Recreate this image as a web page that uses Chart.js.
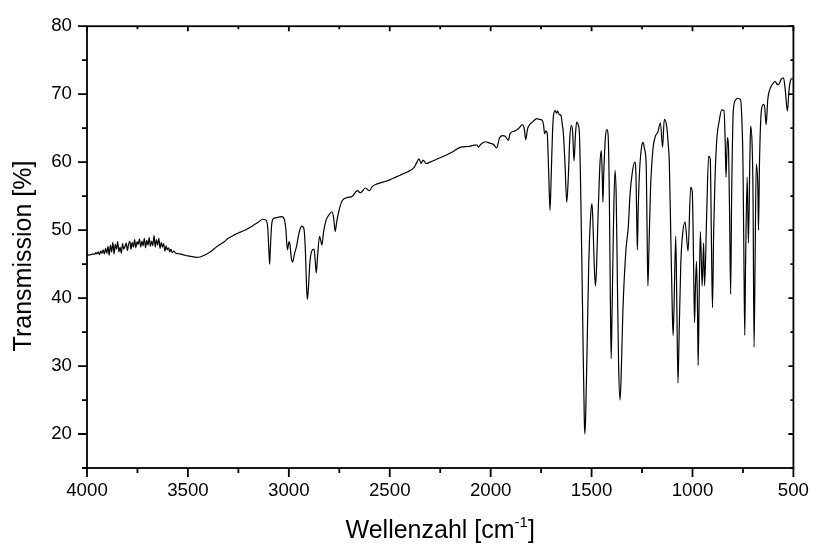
<!DOCTYPE html>
<html>
<head>
<meta charset="utf-8">
<script src="https://cdn.jsdelivr.net/npm/chart.js@4/dist/chart.umd.min.js"></script>
<style>
html, body { margin: 0; padding: 0; background: #fff; }
#wrap { width: 821px; height: 551px; }
</style>
</head>
<body>
<div id="wrap"><canvas id="ir-chart" width="821" height="551"></canvas></div>
<script>
// wavenumbers (cm-1) from left to right
const wavenumbers = [
  4000, 3990, 3980, 3970, 3962, 3956, 3950, 3944, 3938, 3932, 3926, 3920, 3914, 3908, 3902, 3896,
  3890, 3884, 3878, 3872, 3866, 3860, 3854, 3848, 3842, 3836, 3830, 3824, 3818, 3812, 3806, 3800,
  3794, 3788, 3782, 3776, 3770, 3764, 3758, 3752, 3746, 3740, 3734, 3728, 3722, 3716, 3710, 3704,
  3698, 3692, 3686, 3680, 3674, 3668, 3662, 3656, 3650, 3644, 3638, 3632, 3626, 3620, 3614, 3608,
  3602, 3596, 3590, 3584, 3578, 3570, 3560,
  3540, 3520, 3500, 3480, 3460, 3440, 3420, 3400, 3380, 3360, 3340, 3320, 3300, 3270, 3240, 3210,
  3180, 3150, 3130, 3115, 3105, 3098, 3095, 3092, 3085, 3076, 3050, 3035, 3024, 3015, 3007, 2999,
  2995, 2988, 2981, 2972, 2962, 2950, 2937, 2926, 2918, 2912, 2908, 2903, 2895, 2885, 2875, 2868,
  2864, 2858, 2848, 2842, 2836, 2828, 2815, 2800, 2786, 2778, 2770, 2764, 2758, 2745, 2734, 2710,
  2685, 2661, 2645, 2620, 2601, 2587, 2563, 2530, 2500, 2470, 2440, 2410, 2380, 2365, 2355, 2345,
  2335, 2320, 2300, 2270, 2230, 2190, 2148, 2110, 2080, 2067, 2060, 2050, 2026, 2005, 1986, 1970,
  1956, 1940, 1928, 1912, 1904, 1880, 1860, 1843, 1834, 1826, 1818, 1810, 1790, 1771, 1760, 1746,
  1738, 1733, 1726, 1720, 1713, 1706, 1700, 1694, 1689, 1680, 1674, 1668, 1660, 1652, 1645, 1640,
  1632, 1623, 1615, 1608, 1600, 1594, 1587, 1580, 1574, 1566, 1560, 1554, 1548, 1542, 1536, 1533,
  1529, 1522, 1514, 1505, 1498, 1492, 1487, 1481, 1476, 1468, 1458, 1452, 1447, 1444, 1440, 1432,
  1424, 1418, 1412, 1407, 1403, 1399, 1392, 1384, 1378, 1372, 1366, 1359, 1354, 1345, 1330, 1318,
  1310, 1299, 1286, 1280, 1276, 1273, 1269, 1262, 1252, 1245, 1238, 1229, 1225, 1221, 1216, 1208,
  1196, 1184, 1172, 1159, 1148, 1140, 1127, 1120, 1115, 1108, 1100, 1096, 1092, 1083, 1078, 1072,
  1066, 1058, 1050, 1037, 1022, 1009, 1001, 995, 990, 985, 980, 975, 972, 968, 961, 952,
  945, 940, 930, 920, 912, 906, 901, 895, 888, 879, 868, 855, 844, 838, 834, 827,
  822, 816, 811, 806, 798, 785, 778, 762, 755, 750, 745, 741, 737, 729, 723, 716,
  712, 704, 700, 695, 690, 684, 676, 673, 668, 659, 648, 642, 635, 627, 611, 600,
  590, 582, 574, 560, 549, 540, 530, 522, 515, 508, 500
];

// transmission (%) at each wavenumber above
const transmission = [
  46.3, 46.35, 46.4, 46.5, 46.45, 46.7, 46.5, 46.8, 46.4, 46.9, 46.6, 47.1, 46.5, 47.3, 46.6, 47.6,
  46.3, 47.8, 46.8, 48.2, 46.5, 47.9, 47.2, 48.3, 46.8, 47.5, 46.6, 48.0, 47.2, 47.6, 48.1, 47.0,
  47.9, 48.4, 47.2, 48.2, 47.5, 48.6, 47.4, 48.3, 47.9, 48.7, 47.5, 48.4, 47.7, 48.8, 47.4, 48.5,
  47.8, 48.9, 47.6, 48.4, 47.7, 49.2, 47.5, 48.6, 47.8, 48.8, 47.3, 48.2, 47.5, 48.0, 46.9, 47.7,
  47.1, 47.4, 46.8, 47.2, 46.7, 46.9, 46.6,
  46.5, 46.35, 46.2, 46.1, 46.0, 46.05, 46.3, 46.6, 47.0, 47.5, 47.9, 48.3, 48.8, 49.3, 49.7, 50.1,
  50.6, 51.2, 51.6, 51.5, 50.5, 46.5, 45.0, 47.0, 50.8, 51.7, 51.9, 52.0, 51.7, 50.2, 47.1, 48.3,
  48.0, 46.0, 45.3, 46.5, 47.6, 49.5, 50.6, 50.3, 47.0, 41.5, 39.8, 41.5, 45.5, 47.0, 47.2, 45.0,
  43.7, 46.0, 49.1, 48.5, 47.8, 49.7, 51.5, 52.3, 52.7, 51.8, 49.8, 51.0, 52.0, 53.6, 54.4, 54.8,
  55.0, 55.8, 55.5, 56.2, 55.8, 56.4, 56.8, 57.1, 57.4, 57.8, 58.2, 58.6, 59.2, 60.0, 60.5, 59.8,
  60.3, 59.8, 60.0, 60.4, 60.9, 61.5, 62.2, 62.3, 62.5, 62.5, 62.2, 62.6, 63.0, 62.8, 62.6, 62.1,
  63.6, 63.9, 63.8, 63.2, 64.2, 64.6, 65.0, 65.5, 65.0, 63.3, 64.8, 65.4, 66.0, 66.4, 66.3, 66.2,
  65.5, 64.2, 64.6, 64.3, 59.0, 52.9, 58.0, 64.0, 66.8, 67.6, 67.2, 67.5, 67.0, 66.9, 65.5, 64.3,
  60.0, 54.1, 58.0, 63.5, 65.4, 64.5, 60.2, 64.0, 65.9, 65.5, 64.0, 56.0, 45.0, 33.0, 22.0, 20.0,
  23.0, 33.0, 45.0, 52.0, 53.9, 50.0, 45.0, 41.8, 44.0, 52.0, 60.0, 61.7, 58.0, 54.1, 58.0, 63.5,
  64.8, 64.0, 55.0, 40.0, 31.1, 37.0, 50.0, 58.8, 55.0, 42.0, 30.0, 25.0, 28.0, 38.0, 47.0, 50.5,
  55.0, 58.3, 60.0, 58.0, 51.0, 47.1, 53.0, 58.8, 62.3, 62.9, 62.0, 59.2, 50.0, 41.8, 47.0, 56.0,
  61.9, 63.8, 64.4, 65.8, 62.2, 66.3, 65.1, 62.5, 60.2, 50.0, 38.0, 34.5, 38.0, 49.1, 40.0, 27.5,
  35.0, 45.0, 49.1, 51.2, 46.9, 56.3, 55.6, 46.0, 36.4, 42.0, 45.4, 38.0, 30.1, 38.0, 49.8, 41.8,
  48.1, 41.8, 52.0, 60.9, 60.5, 48.0, 38.6, 50.0, 58.0, 63.6, 66.0, 67.7, 67.6, 63.0, 57.8, 63.6,
  62.5, 52.0, 40.6, 55.0, 67.5, 69.2, 69.4, 69.2, 66.0, 60.0, 45.0, 34.5, 45.0, 57.8, 48.1, 60.0,
  65.3, 62.0, 55.0, 32.8, 45.0, 59.7, 56.0, 50.0, 60.0, 67.5, 68.5, 68.0, 65.5, 69.2, 71.1, 71.6,
  71.9, 71.5, 71.4, 72.2, 72.4, 70.5, 67.5, 70.5, 72.0, 72.3, 72.3
];

const xTickLabels = [4000, 3500, 3000, 2500, 2000, 1500, 1000, 500];
const yTickLabels = [20, 30, 40, 50, 60, 70, 80];

const xTitle = 'Wellenzahl [cm';
const xTitleSup = '-1';
const yTitle = 'Transmission [%]';

const tickFont = { family: '"Liberation Sans", Arial, sans-serif', size: 18.7 };
const titleFont = '25px "Liberation Sans", Arial, sans-serif';
const supFont = '15px "Liberation Sans", Arial, sans-serif';

// frame, tick marks (long/short, out on bottom/left, in on top/right) and axis titles
const frameAndTitles = {
  id: 'frameAndTitles',
  afterDraw(chart) {
    const ctx = chart.ctx;
    const a = chart.chartArea;
    const x = chart.scales.x;
    const y = chart.scales.y;
    ctx.save();
    ctx.strokeStyle = '#000';
    ctx.lineWidth = 1.8;
    ctx.strokeRect(a.left, a.top, a.right - a.left, a.bottom - a.top);

    ctx.beginPath();
    for (let v = 500; v <= 4000; v += 250) {
      const px = x.getPixelForValue(v);
      const major = xTickLabels.includes(v);
      ctx.moveTo(px, a.bottom);
      ctx.lineTo(px, a.bottom + (major ? 9 : 5));
      ctx.moveTo(px, a.top);
      ctx.lineTo(px, a.top + (major ? 5 : 3));
    }
    for (let v = 15; v <= 80; v += 5) {
      const py = y.getPixelForValue(v);
      const major = yTickLabels.includes(v);
      ctx.moveTo(a.left, py);
      ctx.lineTo(a.left - (major ? 9 : 5), py);
      ctx.moveTo(a.right, py);
      ctx.lineTo(a.right - (major ? 5 : 3), py);
    }
    ctx.stroke();

    ctx.fillStyle = '#000';
    ctx.textBaseline = 'alphabetic';

    // x title with superscript
    ctx.font = titleFont;
    const w1 = ctx.measureText(xTitle).width;
    const w3 = ctx.measureText(']').width;
    ctx.font = supFont;
    const w2 = ctx.measureText(xTitleSup).width;
    const cx = (a.left + a.right) / 2;
    const tx = cx - (w1 + w2 + w3) / 2;
    const base = 538;
    ctx.font = titleFont;
    ctx.fillText(xTitle, tx, base);
    ctx.font = supFont;
    ctx.fillText(xTitleSup, tx + w1, base - 11);
    ctx.font = titleFont;
    ctx.fillText(']', tx + w1 + w2, base);

    // y title, rotated
    ctx.translate(31, 256);
    ctx.rotate(-Math.PI / 2);
    ctx.textAlign = 'center';
    ctx.fillText(yTitle, 0, 0);
    ctx.restore();
  }
};

const points = wavenumbers.map((wn, i) => ({ x: wn, y: transmission[i] }));

const ctx = document.getElementById('ir-chart').getContext('2d');
const chart = new Chart(ctx, {
  type: 'line',
  data: {
    datasets: [{
      data: points,
      borderColor: '#000',
      borderWidth: 1.2,
      pointRadius: 0,
      fill: false,
      cubicInterpolationMode: 'monotone'
    }]
  },
  options: {
    responsive: false,
    animation: false,
    devicePixelRatio: 1,
    layout: { padding: { left: 0, right: 17, top: 21, bottom: 0 } },
    plugins: { legend: { display: false }, tooltip: { enabled: false } },
    scales: {
      x: {
        type: 'linear',
        reverse: true,
        min: 500,
        max: 4000,
        grid: { display: false, drawTicks: false },
        border: { display: false },
        afterFit: (scale) => { scale.height = 83; },
        ticks: {
          stepSize: 500,
          padding: 12,
          color: '#000',
          font: tickFont,
          maxRotation: 0,
          autoSkip: false,
          callback: (value) => xTickLabels.includes(value) ? String(value) : ''
        }
      },
      y: {
        min: 15,
        max: 80,
        grid: { display: false, drawTicks: false },
        border: { display: false },
        afterFit: (scale) => { scale.width = 87; },
        ticks: {
          stepSize: 5,
          padding: 15,
          color: '#000',
          font: tickFont,
          callback: (value) => yTickLabels.includes(value) ? String(value) : ''
        }
      }
    }
  },
  plugins: [frameAndTitles]
});
</script>
</body>
</html>
